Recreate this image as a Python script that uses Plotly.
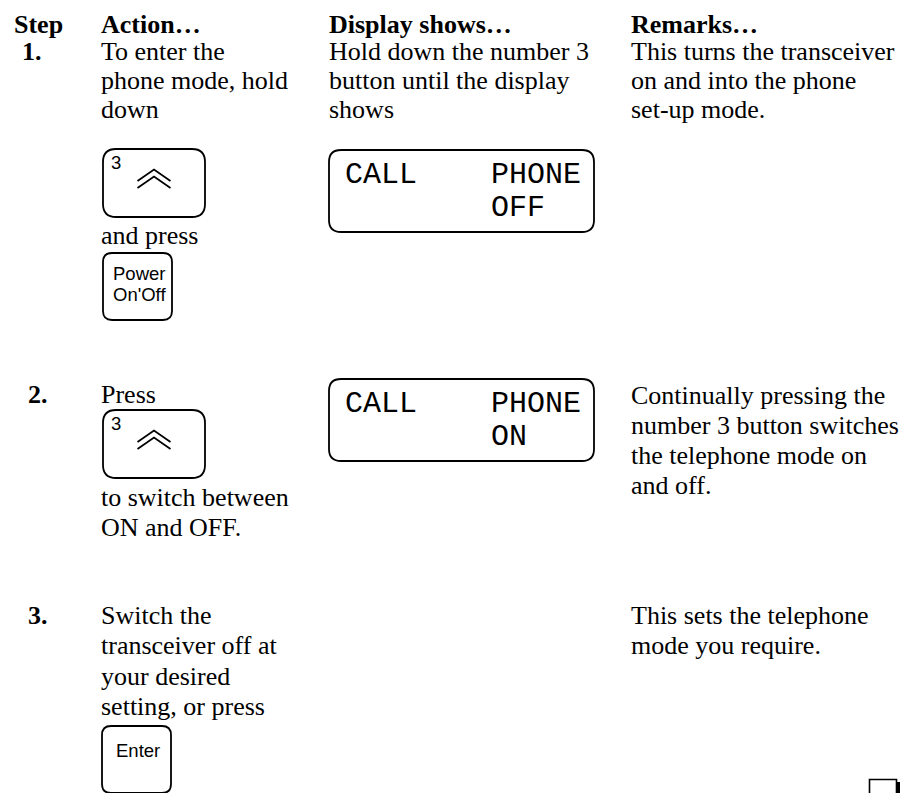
import plotly.graph_objects as go

# ------------------------------------------------------------------ content
headers = ["Step", "Action…", "Display shows…", "Remarks…"]
step_numbers = ["1.", "2.", "3."]

action_1_top = ["To enter the", "phone mode, hold", "down"]
action_1_mid = ["and press"]
action_2_top = ["Press"]
action_2_bottom = ["to switch between", "ON and OFF."]
action_3_top = ["Switch the", "transceiver off at", "your desired", "setting, or press"]

display_1_text = ["Hold down the number 3", "button until the display", "shows"]

remarks_1 = ["This turns the transceiver", "on and into the phone", "set-up mode."]
remarks_2 = ["Continually pressing the", "number 3 button switches",
             "the telephone mode on", "and off."]
remarks_3 = ["This sets the telephone", "mode you require."]

lcd_1 = ["CALL", "PHONE", "OFF"]
lcd_2 = ["CALL", "PHONE", "ON"]

key_up_label = "3"
key_power_label = ["Power", "On'Off"]
key_enter_label = ["Enter"]

# ------------------------------------------------------------------ layout constants
W, H = 908, 793
SERIF = "Liberation Serif, Times New Roman, serif"
SANS = "Liberation Sans, Arial, sans-serif"
MONO = "Liberation Mono, Courier New, monospace"
OFFSET = {SERIF: 0.3375, SANS: 0.3465, MONO: 0.2665}   # baseline -> box centre
BODY = 26
KEY = 18.5
LINE_W = 1.8

X_STEP_HEAD = 14
X_ACTION = 101
X_DISPLAY = 328.5
X_REMARK = 630.5

fig = go.Figure()


def text(x, baseline, s, size=BODY, family=SERIF, bold=False, anchor="left", y_center=None):
    y = y_center if y_center is not None else baseline - OFFSET[family] * size
    fig.add_annotation(
        x=x, y=y, xref="x", yref="y", text=s, showarrow=False,
        xanchor=anchor, yanchor="middle", borderpad=0, borderwidth=0,
        font=dict(family=family, size=size, color="black",
                  weight="bold" if bold else "normal"),
    )


def lines(x, baselines, items, **kw):
    for b, s in zip(baselines, items):
        text(x, b, s, **kw)


def rrect(x0, y0, x1, y1, r):
    return (f"M{x0+r},{y0} L{x1-r},{y0} Q{x1},{y0} {x1},{y0+r} "
            f"L{x1},{y1-r} Q{x1},{y1} {x1-r},{y1} L{x0+r},{y1} "
            f"Q{x0},{y1} {x0},{y1-r} L{x0},{y0+r} Q{x0},{y0} {x0+r},{y0} Z")


def box(x0, y0, x1, y1, r):
    fig.add_shape(type="path", path=rrect(x0, y0, x1, y1, r), xref="x", yref="y",
                  line=dict(color="black", width=LINE_W), fillcolor="rgba(0,0,0,0)")


def up_key(x0, y0):
    x1, y1 = x0 + 102, y0 + 68
    box(x0, y0, x1, y1, 13)
    text(x0 + 8, y0 + 19.5, key_up_label, size=KEY, family=SANS)
    cx = (x0 + x1) / 2
    for top in (20.5, 27.5):
        fig.add_shape(type="path",
                      path=f"M{cx-16.5},{y0+top+11.5} L{cx},{y0+top} L{cx+16.5},{y0+top+11.5}",
                      xref="x", yref="y", line=dict(color="black", width=LINE_W))


def small_key(x0, y0, labels, baselines):
    box(x0, y0, x0 + 69, y0 + 67, 9)
    for b, s in zip(baselines, labels):
        text(x0 + 36, y0 + b, s, size=KEY, family=SANS, anchor="center")


def lcd(x0, y0, items):
    box(x0, y0, x0 + 265, y0 + 82, 12)
    text(x0 + 16, None, items[0], size=30, family=MONO, y_center=y0 + 25)
    text(x0 + 162, None, items[1], size=30, family=MONO, y_center=y0 + 25)
    text(x0 + 162, None, items[2], size=30, family=MONO, y_center=y0 + 57.5)


# ------------------------------------------------------------------ header
HEAD_BASE = 33
for x, s in zip([X_STEP_HEAD, X_ACTION, X_DISPLAY, X_REMARK], headers):
    text(x, HEAD_BASE, s, bold=True)

# ------------------------------------------------------------------ step 1
text(22, 60.5, step_numbers[0], bold=True)
lines(X_ACTION, [60.5, 89.5, 118.5], action_1_top)
up_key(103, 149)
lines(X_ACTION, [244], action_1_mid)
small_key(103, 253, key_power_label, [26.5, 47.5])
lines(X_DISPLAY, [60.5, 89.5, 118.5], display_1_text)
lcd(329, 150, lcd_1)
lines(X_REMARK, [60.5, 89.5, 118.5], remarks_1)

# ------------------------------------------------------------------ step 2
text(28, 403.5, step_numbers[1], bold=True)
lines(X_ACTION, [403.5], action_2_top)
up_key(103, 410)
lines(X_ACTION, [506, 536.5], action_2_bottom)
lcd(329, 379, lcd_2)
lines(X_REMARK, [404, 434, 464, 494], remarks_2)

# ------------------------------------------------------------------ step 3
text(28, 624, step_numbers[2], bold=True)
lines(X_ACTION, [624, 654.5, 685, 715.5], action_3_top)
small_key(102, 726, key_enter_label, [31])
lines(X_REMARK, [624, 654.5], remarks_3)

# ------------------------------------------------------------------ end-of-section mark
fig.add_shape(type="rect", x0=873, x1=900, y0=782, y1=812, xref="x", yref="y",
              line=dict(width=0), fillcolor="black")
fig.add_shape(type="rect", x0=869.5, x1=896.5, y0=779.5, y1=809, xref="x", yref="y",
              line=dict(color="black", width=1.6), fillcolor="white")

fig.update_layout(
    width=W, height=H, margin=dict(l=0, r=0, t=0, b=0),
    paper_bgcolor="white", plot_bgcolor="white", showlegend=False,
    xaxis=dict(range=[0, W], visible=False, fixedrange=True),
    yaxis=dict(range=[H, 0], visible=False, fixedrange=True),
)

fig.write_html(
    "out.html",
    config={"displayModeBar": False},
    post_script="document.body.style.margin='0';document.body.style.overflow='hidden';",
)
